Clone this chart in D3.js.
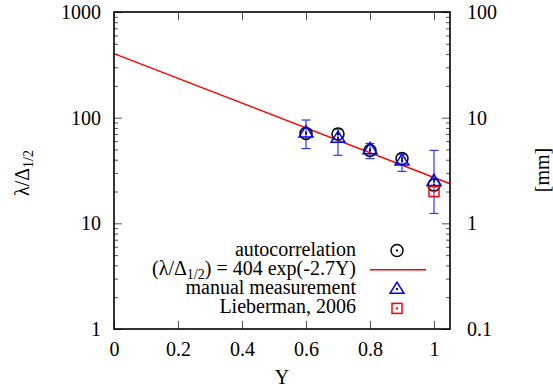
<!DOCTYPE html>
<html>
<head>
<meta charset="utf-8">
<script src="https://cdn.jsdelivr.net/npm/d3@7"></script>
<style>
  body { margin: 0; background: #fff; }
  #chart text { font-family: 'Liberation Serif', 'Times New Roman', serif; font-size: 20px; fill: #000; }
</style>
</head>
<body>
<svg id="chart" width="553" height="387"></svg>
<script>
// data
const autoY = [0.6, 0.7, 0.8, 0.9, 1.0];
const autoValues = [71, 70, 49, 41, 23];

const manualY = [0.6, 0.7, 0.8, 0.9, 1.0];
const manualValues = [72, 64, 50, 39, 25];
const manualLow = [51, 44, 41, 31, 12.4];
const manualHigh = [95, 78, 57, 45, 49];

const liebermanY = [1.0];
const liebermanValues = [20];

// fit (λ/Δ) = 404 exp(-2.7Y), a straight line on the log axis
const fitY = [0, 1.05];
const fitValues = [404, 23.7];

const xTicks = [0, 0.2, 0.4, 0.6, 0.8, 1];
const leftTicks = [1, 10, 100, 1000];
const rightTicks = [0.1, 1, 10, 100];

const svg = d3.select('#chart');
const margin = {top: 12, right: 103, bottom: 58, left: 114};
const width = +svg.attr('width') - margin.left - margin.right;
const height = +svg.attr('height') - margin.top - margin.bottom;

const x = d3.scaleLinear().domain([0, 1.05]).range([0, width]);
const y = d3.scaleLog().domain([1, 1000]).range([height, 0]);
const yRight = d3.scaleLog().domain([0.1, 100]).range([height, 0]);

const g = svg.append('g')
    .attr('transform', `translate(${margin.left},${margin.top})`);

// minor ticks for a log axis
const minorOf = (scale) => scale.ticks().filter(v => {
  const m = v / Math.pow(10, Math.floor(Math.log10(v) + 1e-9));
  return Math.abs(m - 1) > 1e-6;
});

const styleAxis = sel => {
  sel.attr('font-family', null).attr('font-size', null);
  sel.select('.domain').remove();
  sel.selectAll('.tick line').attr('stroke', '#555').attr('stroke-width', 1);
};

// bottom axis
g.append('g')
    .attr('transform', `translate(0,${height})`)
    .call(d3.axisBottom(x).tickValues(xTicks).tickSizeInner(-8).tickSizeOuter(0).tickPadding(13)
      .tickFormat(d3.format('')))
    .call(styleAxis);

// top ticks
g.append('g')
    .call(d3.axisTop(x).tickValues(xTicks).tickSizeInner(-8).tickSizeOuter(0).tickFormat(''))
    .call(styleAxis);

// left axis
g.append('g')
    .call(d3.axisLeft(y).tickValues(leftTicks).tickSizeInner(-8).tickSizeOuter(0).tickPadding(13)
      .tickFormat(d3.format('')))
    .call(styleAxis);
g.append('g')
    .call(d3.axisLeft(y).tickValues(minorOf(y)).tickSizeInner(-4).tickSizeOuter(0).tickFormat(''))
    .call(styleAxis);

// right axis
g.append('g')
    .attr('transform', `translate(${width},0)`)
    .call(d3.axisRight(yRight).tickValues(rightTicks).tickSizeInner(-8).tickSizeOuter(0).tickPadding(17)
      .tickFormat(d3.format('')))
    .call(styleAxis);
g.append('g')
    .attr('transform', `translate(${width},0)`)
    .call(d3.axisRight(yRight).tickValues(minorOf(yRight)).tickSizeInner(-4).tickSizeOuter(0).tickFormat(''))
    .call(styleAxis);

// fit line
const fitData = fitY.map((v, i) => ({x: v, y: fitValues[i]}));
g.append('path')
    .datum(fitData)
    .attr('fill', 'none')
    .attr('stroke', '#ff0000')
    .attr('stroke-width', 1.4)
    .attr('d', d3.line().x(d => x(d.x)).y(d => y(d.y)));

// markers
const circleMark = (sel, cx, cy) => {
  sel.append('circle').attr('cx', cx).attr('cy', cy).attr('r', 6)
    .attr('fill', 'none').attr('stroke', '#000').attr('stroke-width', 1.5);
  sel.append('rect').attr('x', cx - 1).attr('y', cy - 1).attr('width', 2).attr('height', 2).attr('fill', '#000');
};
const triMark = (sel, cx, cy) => {
  const s = 7;
  sel.append('path')
    .attr('d', `M${cx},${cy - s} L${cx + s},${cy + s * 0.6} L${cx - s},${cy + s * 0.6} Z`)
    .attr('fill', 'none').attr('stroke', '#0000ff').attr('stroke-width', 1.5);
  sel.append('rect').attr('x', cx - 1).attr('y', cy - 1).attr('width', 2).attr('height', 2).attr('fill', '#0000ff');
};
const squareMark = (sel, cx, cy) => {
  sel.append('rect').attr('x', cx - 5).attr('y', cy - 5).attr('width', 10).attr('height', 10)
    .attr('fill', 'none').attr('stroke', '#ff0000').attr('stroke-width', 1.5);
  sel.append('rect').attr('x', cx - 1).attr('y', cy - 1).attr('width', 2).attr('height', 2).attr('fill', '#ff0000');
};

// error bars
const eb = g.append('g').attr('stroke', '#3333ff').attr('stroke-width', 1.2);
manualY.forEach((v, i) => {
  const cx = x(v);
  eb.append('line').attr('x1', cx).attr('x2', cx).attr('y1', y(manualLow[i])).attr('y2', y(manualHigh[i]));
  eb.append('line').attr('x1', cx - 4.5).attr('x2', cx + 4.5).attr('y1', y(manualLow[i])).attr('y2', y(manualLow[i]));
  eb.append('line').attr('x1', cx - 4.5).attr('x2', cx + 4.5).attr('y1', y(manualHigh[i])).attr('y2', y(manualHigh[i]));
});

const marks = g.append('g');
autoY.forEach((v, i) => circleMark(marks, x(v), y(autoValues[i])));
manualY.forEach((v, i) => triMark(marks, x(v), y(manualValues[i])));
liebermanY.forEach((v, i) => squareMark(marks, x(v), y(liebermanValues[i])));

// frame
g.append('rect')
    .attr('width', width).attr('height', height)
    .attr('fill', 'none').attr('stroke', '#000').attr('stroke-width', 1.6);

// legend
const legend = g.append('g').attr('transform', 'translate(242,238.5)');
const rowH = 19.3;
const lt = (i) => legend.append('text').attr('x', 0).attr('y', i * rowH + 5).attr('text-anchor', 'end');
lt(0).text('autocorrelation');
const t1 = lt(1);
t1.append('tspan').text('(λ/Δ');
t1.append('tspan').style('font-size', '14px').attr('dy', 4).text('1/2');
t1.append('tspan').attr('dy', -4).text(') = 404 exp(-2.7Y)');
lt(2).text('manual measurement');
lt(3).text('Lieberman, 2006');
circleMark(legend, 41, 0);
legend.append('line').attr('x1', 14).attr('x2', 70).attr('y1', rowH).attr('y2', rowH)
  .attr('stroke', '#ff0000').attr('stroke-width', 1.4);
triMark(legend, 41, rowH * 2);
squareMark(legend, 41, rowH * 3);

// axis titles
svg.append('text')
    .attr('x', margin.left + width / 2).attr('y', 384)
    .attr('text-anchor', 'middle').text('Y');

const yl = svg.append('text')
    .attr('transform', 'translate(29,173) rotate(-90)')
    .attr('text-anchor', 'middle');
yl.append('tspan').text('λ/Δ');
yl.append('tspan').style('font-size', '14px').attr('dy', 4).text('1/2');

svg.append('text')
    .attr('transform', 'translate(549,170) rotate(-90)')
    .attr('text-anchor', 'middle').text('[mm]');
</script>
</body>
</html>
